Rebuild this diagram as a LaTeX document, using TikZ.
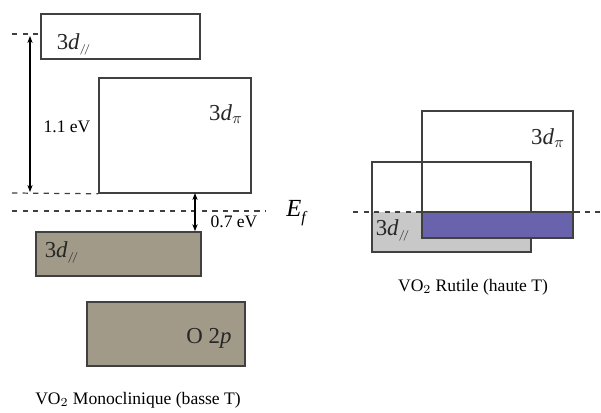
\documentclass[tikz,border=0pt]{standalone}
\usepackage{fontspec}
\setmainfont{Liberation Serif}
\usetikzlibrary{arrows.meta,positioning}
\definecolor{bandbrown}{RGB}{162,154,137}
\definecolor{bandgrey}{RGB}{200,200,200}
\definecolor{bandblue}{RGB}{104,99,172}
\tikzset{
  band/.style={draw=black!75, line width=0.9pt, rectangle, inner sep=0pt},
  level/.style={dashed, line width=0.7pt, black!75},
  gap/.style={{Stealth[length=4pt]}-{Stealth[length=4pt]}, line width=0.6pt},
  lbl/.style={font=\fontsize{13}{15}\selectfont, text=black!85},
  small/.style={font=\fontsize{10}{12}\selectfont}
}
\newcommand{\dpar}{3\textit{d}$_{\scriptscriptstyle/\!/}$}
\newcommand{\dpib}{3\textit{d}$_{\pi}$}

\begin{document}
\begin{tikzpicture}[x=0.02cm, y=-0.02cm]
    \useasboundingbox (0,0) rectangle (601,412);

    % monoclinique
    \node (dtop) [band, minimum width=3.18cm, minimum height=0.9cm] at (120.5,36.5) {};
    \node (dpi) [band, minimum width=3.04cm, minimum height=2.3cm] at (175,135.5) {};
    \node (dlow) [band, fill=bandbrown, minimum width=3.3cm, minimum height=0.88cm] at (118.5,254) {};
    \node (otwop) [band, fill=bandbrown, minimum width=3.16cm, minimum height=1.28cm] at (166,334) {};

    \node [lbl] at (74,44) {\dpar};
    \node [lbl] at (226,114) {\dpib};
    \node [lbl] at (62,252) {\dpar};
    \node [lbl] at (209,338) {O 2\textit{p}};

    \coordinate (ltop) at (12,34);
    \coordinate (lmid) at (12,193);
    \coordinate (lef) at (12,211);
    \draw [level] (ltop) -- (dtop.west |- ltop);
    \draw [level] (lmid) -- (dpi.south west);
    \draw [level] (lef) -- (266,211);
    \node (ef) at (297,213) {\fontsize{14}{16}\selectfont\textit{E}\raisebox{-0.5ex}{\fontsize{9}{10}\selectfont\textit{f}}};

    \coordinate (atop) at (30,36);
    \coordinate (abot) at (30,192);
    \draw [gap] (atop) -- (abot);
    \node [small] at (67,127) {1.1 eV};

    \coordinate (btop) at (195,193);
    \draw [gap] (btop) -- (btop |- dlow.north);
    \node [small] at (234,222) {0.7 eV};

    \node [small] at (138,400) {VO$_2$ Monoclinique (basse T)};

    % rutile
    \fill [bandgrey] (372,212) rectangle (531,252);
    \node (rpar) [band, minimum width=3.18cm, minimum height=1.8cm] at (451.5,207) {};
    \node (rpi) [band, minimum width=3.02cm, minimum height=2.54cm] at (497.5,174.5) {};
    \draw [black!75, line width=0.9pt, fill=bandblue] (422,212) rectangle (573,238);
    \draw [level] (353,212) -- (600,212);

    \node [lbl] at (548,138) {\dpib};
    \node [lbl] at (393,230) {\dpar};
    \node [small] at (473,287) {VO$_2$ Rutile (haute T)};

\end{tikzpicture}
\end{document}
